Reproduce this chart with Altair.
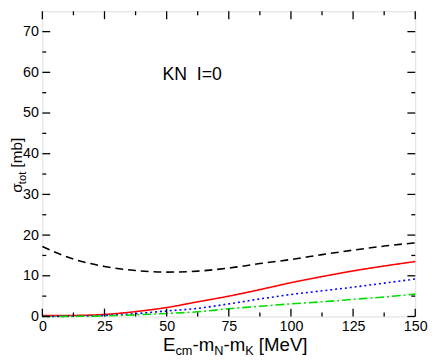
import altair as alt
import pandas as pd

# ---- data ----
energy = [0, 12.5, 25, 37.5, 50, 62.5, 75, 87.5, 100, 112.5, 125, 137.5, 150]
sigma_black_dashed = [17.2, 14.1, 12.3, 11.3, 10.9, 11.15, 11.9, 13.0, 14.0, 15.2, 16.3, 17.3, 18.1]
sigma_red_solid = [0.2, 0.25, 0.5, 1.2, 2.2, 3.6, 5.0, 6.6, 8.3, 9.8, 11.2, 12.4, 13.5]
sigma_blue_dotted = [0.0, 0.05, 0.25, 0.7, 1.35, 2.0, 3.1, 4.3, 5.4, 6.3, 7.2, 8.2, 9.2]
sigma_green_dashdot = [0.0, 0.03, 0.15, 0.4, 0.75, 1.15, 1.9, 2.5, 3.1, 3.6, 4.2, 4.8, 5.5]

x_major = [0, 25, 50, 75, 100, 125, 150]
x_minor = [12.5, 37.5, 62.5, 87.5, 112.5, 137.5]
y_major = [0, 10, 20, 30, 40, 50, 60, 70]
y_minor = [5, 15, 25, 35, 45, 55, 65]

series_names = ["dashed", "solid", "dotted", "dashdot"]
series_colors = ["#000000", "#ff0000", "#0000ff", "#00dd00"]
series_dash = [[8, 5], [1, 0], [2, 3], [9, 3, 2, 3]]

label_text = "KN\u00a0\u00a0I=0"
label_x = [48.3]
label_y = [58.2]

W, H = 380, 311
FONT = "Liberation Sans"

rows = []
for name, vals in zip(series_names, [sigma_black_dashed, sigma_red_solid, sigma_blue_dotted, sigma_green_dashdot]):
    for e, s in zip(energy, vals):
        rows.append({"E": e, "sigma": s, "series": name})
df = pd.DataFrame(rows)

xscale = alt.Scale(domain=[0, 150], nice=False, zero=False)
yscale = alt.Scale(domain=[0, 75], nice=False, zero=False)

xaxis = alt.Axis(values=x_major, title=None, ticks=False, tickSize=0, domain=False, grid=False,
                 labelFontSize=14.5, labelPadding=3, labelColor="black", labelFont=FONT,
                 labelFlush=False, labelOverlap=False, format="d")
yaxis = alt.Axis(values=y_major, title=None, ticks=False, tickSize=0, domain=False, grid=False,
                 labelFontSize=14.5, labelPadding=4, labelColor="black", labelFont=FONT,
                 labelFlush=False, labelOverlap=False, format="d")

lines = alt.Chart(df).mark_line(strokeWidth=1.6, interpolate="monotone").encode(
    x=alt.X("E:Q", scale=xscale, axis=xaxis, title=None),
    y=alt.Y("sigma:Q", scale=yscale, axis=yaxis, title=None),
    color=alt.Color("series:N", scale=alt.Scale(domain=series_names, range=series_colors), legend=None),
    strokeDash=alt.StrokeDash("series:N", scale=alt.Scale(domain=series_names, range=series_dash), legend=None),
    detail="series:N",
)


def xticks(vals, length):
    d = pd.DataFrame({"v": vals})
    bottom = alt.Chart(d).mark_rule(color="black", strokeWidth=1.3).encode(
        x=alt.X("v:Q", scale=xscale, axis=xaxis, title=None), y=alt.value(H), y2=alt.value(H - length))
    top = alt.Chart(d).mark_rule(color="black", strokeWidth=1.3).encode(
        x=alt.X("v:Q", scale=xscale, axis=xaxis, title=None), y=alt.value(0), y2=alt.value(length))
    return [bottom, top]


def yticks(vals, length):
    d = pd.DataFrame({"v": vals})
    left = alt.Chart(d).mark_rule(color="black", strokeWidth=1.3).encode(
        y=alt.Y("v:Q", scale=yscale, axis=yaxis, title=None), x=alt.value(0), x2=alt.value(length))
    right = alt.Chart(d).mark_rule(color="black", strokeWidth=1.3).encode(
        y=alt.Y("v:Q", scale=yscale, axis=yaxis, title=None), x=alt.value(W), x2=alt.value(W - length))
    return [left, right]


ADV = {"E": .667, "c": .5, "m": .833, "-": .333, "N": .722, "K": .667, " ": .278, "[": .278,
       "M": .833, "e": .556, "V": .667, "]": .278, "t": .278, "o": .556, "b": .556, "σ": .57}


def adv(s, size):
    return sum(ADV.get(ch, .556) for ch in s) * size


def seg_text(txt, size, x, y, angle=0):
    return alt.Chart(pd.DataFrame({"t": [txt]})).mark_text(
        align="left", baseline="alphabetic", fontSize=size, font=FONT, color="black", angle=angle
    ).encode(x=alt.value(x), y=alt.value(y), text="t:N")


# x title: E_cm-m_N-m_K [MeV]
XMAIN, XSUB, DROP = 19, 13, 4
x_segments = [("E", XMAIN, 0), ("cm", XSUB, DROP), ("-m", XMAIN, 0), ("N", XSUB, DROP),
              ("-m", XMAIN, 0), ("K", XSUB, DROP), (" ", XMAIN, 0), ("[MeV]", XMAIN, 0)]
xt_layers = []
cx = 123
for txt, size, drop in x_segments:
    if txt.strip():
        xt_layers.append(seg_text(txt, size, cx, H + 35 + drop))
    cx += adv(txt, size)

# y title: sigma_tot [mb]  (rotated)
YMAIN, YSUB = 15.5, 11.5
y_segments = [("σ", YMAIN, 0), ("tot", YSUB, DROP), (" ", YMAIN, 0), ("[mb]", YMAIN, 0)]
total = sum(adv(t, s) for t, s, _ in y_segments)
cy = 157 + total / 2
yt_layers = []
for txt, size, drop in y_segments:
    if txt.strip():
        yt_layers.append(seg_text(txt, size, -20.5 + drop, cy, angle=270))
    cy -= adv(txt, size)

label = alt.Chart(pd.DataFrame({"x": label_x, "y": label_y, "t": [label_text]})).mark_text(
    align="left", baseline="alphabetic", fontSize=18, font=FONT, color="black"
).encode(x=alt.X("x:Q", scale=xscale, axis=xaxis, title=None),
         y=alt.Y("y:Q", scale=yscale, axis=yaxis, title=None), text="t:N")

layers = [lines] + xticks(x_major, 8) + xticks(x_minor, 4) + yticks(y_major, 8) + yticks(y_minor, 4) \
    + xt_layers + yt_layers + [label]

chart = alt.layer(*layers).properties(
    width=W, height=H,
    autosize=alt.AutoSizeParams(type="none"),
    padding={"left": 35, "top": 0, "right": 13, "bottom": 41},
).configure_view(stroke="black", strokeWidth=1.3).configure(font=FONT)

chart.save("out.html", embed_options={"renderer": "svg", "actions": False})
